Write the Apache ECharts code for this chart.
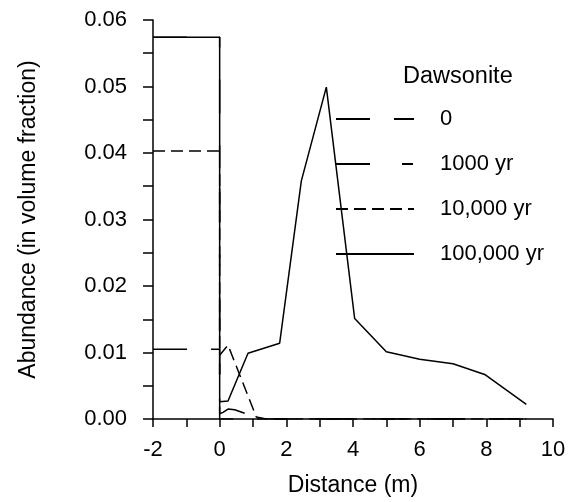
<!DOCTYPE html>
<html><head><meta charset="utf-8">
<script src="https://cdn.jsdelivr.net/npm/echarts@6/dist/echarts.min.js"></script>
<style>html,body{margin:0;padding:0;background:#fff}#c{width:569px;height:502px}</style>
</head><body><div id="c"></div>
<script>
// Series data (distance in m, abundance in volume fraction)
const seriesNames = ['0', '1000 yr', '10,000 yr', '100,000 yr'];
const x0 = [-2, 0, 0, 9.2];
const y0 = [0.0105, 0.0105, 0, 0];
const x1k = [-2, 0, 0, 0.1, 0.25, 0.45, 1.0, 1.2, 9.2];
const y1k = [0.0574, 0.0574, 0.0008, 0.0010, 0.0015, 0.0014, 0.0004, 0, 0];
const x10k = [-2, 0, 0, 0.25, 1.1, 1.4, 9.2];
const y10k = [0.0403, 0.0403, 0.0096, 0.0111, 0.0003, 0, 0];
const x100k = [-2, 0, 0, 0.25, 0.85, 1.8, 2.45, 3.2, 4.05, 5, 6, 7, 7.95, 9.2];
const y100k = [0.0574, 0.0574, 0.0026, 0.0027, 0.0099, 0.0114, 0.0358, 0.0499, 0.0151, 0.0101, 0.0090, 0.0083, 0.0067, 0.0022];
const xTicks = [-2, 0, 2, 4, 6, 8, 10];
const yTicks = [0, 0.01, 0.02, 0.03, 0.04, 0.05, 0.06];

const zip = (xs, ys) => xs.map((x, i) => [x, ys[i]]);
const font = 'Liberation Sans, Arial, sans-serif';
const dashes = [[34, 24], [34, 32, 11, 32], [12, 6], 'solid'];
const allData = [zip(x0, y0), zip(x1k, y1k), zip(x10k, y10k), zip(x100k, y100k)];

const chart = echarts.init(document.getElementById('c'), null, {renderer: 'canvas'});
chart.setOption({
  animation: false,
  backgroundColor: '#fff',
  grid: {left: 153, right: 16, top: 20, bottom: 83},
  title: {text: 'Dawsonite', left: 398, top: 60,
    textStyle: {fontFamily: font, fontSize: 23.5, fontWeight: 'normal', color: '#000'}},
  legend: {
    data: seriesNames, orient: 'vertical', left: 330, top: 103,
    itemWidth: 78, itemHeight: 22, itemGap: 23,
    itemStyle: {opacity: 0},
    textStyle: {fontFamily: font, fontSize: 22, color: '#000', lineHeight: 22, padding: [0, 0, 0, 21]},
    selectedMode: false
  },
  xAxis: {
    type: 'value', min: xTicks[0], max: xTicks[xTicks.length - 1], interval: 2,
    name: 'Distance (m)', nameLocation: 'middle', nameGap: 55,
    nameTextStyle: {fontFamily: font, fontSize: 23, color: '#000'},
    axisLine: {show: true, onZero: false, lineStyle: {color: '#000', width: 1.5}},
    axisTick: {show: true, length: 8, lineStyle: {color: '#000', width: 1.5}},
    minorTick: {show: true, splitNumber: 2, length: 8, lineStyle: {color: '#000', width: 1.5}},
    axisLabel: {fontFamily: font, fontSize: 22, color: '#000', margin: 20},
    splitLine: {show: false}
  },
  yAxis: {
    type: 'value', min: yTicks[0], max: yTicks[yTicks.length - 1], interval: 0.01,
    name: 'Abundance (in volume fraction)', nameLocation: 'middle', nameGap: 113,
    nameTextStyle: {fontFamily: font, fontSize: 23, color: '#000'},
    axisLine: {show: true, onZero: false, lineStyle: {color: '#000', width: 1.5}},
    axisTick: {show: true, length: 10, lineStyle: {color: '#000', width: 1.5}},
    minorTick: {show: true, splitNumber: 2, length: 10, lineStyle: {color: '#000', width: 1.5}},
    axisLabel: {fontFamily: font, fontSize: 22, color: '#000', margin: 26,
      formatter: v => v.toFixed(2)},
    splitLine: {show: false}
  },
  series: seriesNames.map((n, i) => ({
    name: n, type: 'line', data: allData[i], showSymbol: false, symbol: 'none',
    lineStyle: {color: '#000', width: 1.5, type: dashes[i]},
    itemStyle: {color: '#000'}, z: 2 + i
  }))
});
</script></body></html>
